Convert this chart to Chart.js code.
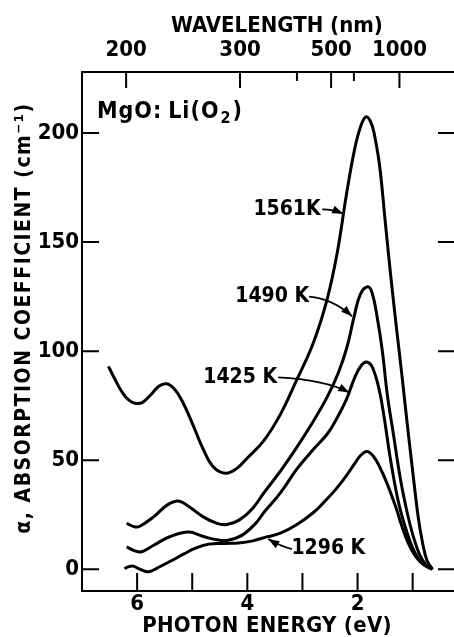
<!DOCTYPE html>
<html>
<head>
<meta charset="utf-8">
<script src="https://cdn.jsdelivr.net/npm/chart.js@4.4.1/dist/chart.umd.min.js"></script>
<style>
  html, body { margin: 0; padding: 0; background: #fff; overflow: hidden; }
  #wrap { width: 454px; height: 637px; position: relative; }
</style>
</head>
<body>
<div id="wrap"><canvas id="chart"></canvas></div>
<script>
// photon energy (eV) vs absorption coefficient (cm^-1)
const k1561 = [[6.52,93],[6.40,87],[6.28,81.5],[6.15,77.5],[6.02,76],[5.90,76.5],[5.75,80],[5.60,84],[5.46,85],[5.32,82.5],[5.18,77],[5.00,67],[4.80,55],[4.62,47],[4.40,44],[4.20,46],[4.00,51],[3.70,59],[3.40,71],[3.10,87],[2.80,104],[2.55,124],[2.37,145],[2.20,172],[2.05,193],[1.93,204],[1.84,207.5],[1.76,205],[1.70,200],[1.60,185],[1.50,160],[1.40,135],[1.30,112],[1.20,90],[1.10,67],[1.00,45],[0.90,24],[0.82,12],[0.74,4],[0.64,0]];
const k1490 = [[6.19,21],[6.05,19.5],[5.95,19.7],[5.70,24],[5.45,29.5],[5.25,31.3],[5.05,28.5],[4.80,24],[4.55,21],[4.37,20.5],[4.15,22.5],[3.90,28],[3.70,35],[3.40,45],[3.10,56],[2.80,68],[2.55,79],[2.35,90],[2.19,102],[2.07,115],[1.95,126],[1.82,129.5],[1.74,127],[1.64,115],[1.55,100],[1.46,80],[1.35,62],[1.22,41],[1.10,26],[1.00,16],[0.88,7],[0.76,2],[0.64,0]];
const k1425 = [[6.19,10.2],[6.05,8.5],[5.92,8],[5.70,11],[5.40,15],[5.06,17],[4.80,15],[4.55,13.5],[4.35,13.3],[4.10,15.5],[3.85,21],[3.70,26],[3.40,35],[3.10,46],[2.80,55],[2.55,62],[2.38,69],[2.20,78],[2.05,88],[1.93,93.5],[1.83,95],[1.72,92],[1.58,79],[1.40,50],[1.26,31],[1.13,19],[1.02,11],[0.90,5],[0.76,1.5],[0.64,0]];
const k1296 = [[6.23,0.3],[6.15,1.2],[6.07,1.4],[5.95,0],[5.79,-1.2],[5.60,1],[5.37,4],[5.15,7],[4.95,9.5],[4.70,11.5],[4.40,11.8],[4.16,12],[3.90,13],[3.65,14.8],[3.40,16.5],[3.10,20.5],[2.80,26],[2.60,31],[2.40,36.5],[2.20,43],[2.05,48.5],[1.95,52],[1.83,54],[1.72,52],[1.60,47],[1.46,39],[1.30,28],[1.20,20],[1.08,12],[0.95,6],[0.80,2],[0.64,0]];

const energyTicks = [1, 2, 3, 4, 5, 6];
const energyLabels = [2, 4, 6];
const alphaTicks = [0, 50, 100, 150, 200];
const wavelengthTicks = [200, 300, 400, 500, 600, 1000];
const wavelengthLabels = [200, 300, 500, 1000];
const HC = 1239.84; // eV*nm

const FONT = 'DejaVu Sans Condensed, DejaVu Sans';
Chart.defaults.font.family = FONT;
Chart.defaults.font.weight = 'bold';
Chart.defaults.color = '#000';

const toXY = arr => arr.map(p => ({x: p[0], y: p[1]}));
const curve = d => ({
  data: toXY(d),
  borderColor: '#000',
  borderWidth: 3,
  pointRadius: 0,
  fill: false,
  tension: 0.4
});

// text labels + arrows, placed in data units
const notes = [
  {text: '1561K',  at: [3.28, 165], from: [2.64, 165], ctrl: [2.45, 165], tip: [2.26, 163]},
  {text: '1490 K', at: [3.55, 125], from: [2.88, 125], ctrl: [2.45, 124], tip: [2.10, 116]},
  {text: '1425 K', at: [4.13, 88],  from: [3.44, 88],  ctrl: [2.60, 87],  tip: [2.15, 81]},
  {text: '1296 K', at: [2.53, 9.6], from: [3.19, 9.2], ctrl: [3.40, 10.5], tip: [3.62, 13.8]}
];

function arrow(ctx, s, c, t) {
  ctx.beginPath();
  ctx.moveTo(s[0], s[1]);
  ctx.quadraticCurveTo(c[0], c[1], t[0], t[1]);
  ctx.stroke();
  const ang = Math.atan2(t[1] - c[1], t[0] - c[0]);
  const L = 11, W = 4;
  ctx.beginPath();
  ctx.moveTo(t[0], t[1]);
  ctx.lineTo(t[0] - L * Math.cos(ang) + W * Math.sin(ang), t[1] - L * Math.sin(ang) - W * Math.cos(ang));
  ctx.lineTo(t[0] - L * Math.cos(ang) - W * Math.sin(ang), t[1] - L * Math.sin(ang) + W * Math.cos(ang));
  ctx.closePath();
  ctx.fill();
}

function spaced(ctx, px) {
  if ('letterSpacing' in ctx) ctx.letterSpacing = px + 'px';
}

const decor = {
  id: 'decor',
  afterDraw(chart) {
    const {ctx, chartArea: a} = chart;
    const x = chart.scales.x, x2 = chart.scales.x2, y = chart.scales.y;
    const P = (e, v) => [x.getPixelForValue(e), y.getPixelForValue(v)];
    ctx.save();
    ctx.strokeStyle = '#000';
    ctx.fillStyle = '#000';
    ctx.lineWidth = 2;

    // inward tick marks
    ctx.beginPath();
    energyTicks.forEach(v => {
      const px = x.getPixelForValue(v);
      ctx.moveTo(px, a.bottom);
      ctx.lineTo(px, a.bottom - 18);
    });
    alphaTicks.forEach(v => {
      const py = y.getPixelForValue(v);
      ctx.moveTo(a.left, py); ctx.lineTo(a.left + 17, py);
      ctx.moveTo(a.right - 16, py); ctx.lineTo(a.right, py);
    });
    wavelengthTicks.forEach(l => {
      const px = x2.getPixelForValue(HC / l);
      const len = wavelengthLabels.includes(l) ? 16 : 9;
      ctx.moveTo(px, a.top);
      ctx.lineTo(px, a.top + len);
    });
    ctx.stroke();

    // curve labels and arrows
    ctx.font = 'bold 21px ' + FONT;
    ctx.textAlign = 'center';
    ctx.textBaseline = 'middle';
    ctx.lineWidth = 1.8;
    notes.forEach(n => {
      const p = P(n.at[0], n.at[1]);
      ctx.fillText(n.text, p[0], p[1]);
      arrow(ctx, P(n.from[0], n.from[1]), P(n.ctrl[0], n.ctrl[1]), P(n.tip[0], n.tip[1]));
    });

    // axis titles
    ctx.font = 'bold 22px ' + FONT;
    ctx.fillText('WAVELENGTH (nm)', 277, 26);
    ctx.save();
    spaced(ctx, 0.3);
    ctx.fillText('PHOTON ENERGY (eV)', 267, 626);
    ctx.restore();

    // sample label MgO:Li(O2)
    const m = P(6.73, 207);
    ctx.save();
    ctx.textAlign = 'left';
    ctx.textBaseline = 'alphabetic';
    spaced(ctx, 1);
    ctx.font = 'bold 23px ' + FONT;
    let cx = m[0];
    ctx.fillText('MgO:', cx, m[1]);
    cx += ctx.measureText('MgO:').width + 6;
    ctx.fillText('Li(O', cx, m[1]);
    cx += ctx.measureText('Li(O').width;
    ctx.font = 'bold 16px ' + FONT;
    ctx.fillText('2', cx + 1, m[1] + 5);
    cx += ctx.measureText('2').width + 2;
    ctx.font = 'bold 23px ' + FONT;
    ctx.fillText(')', cx, m[1]);
    ctx.restore();

    // y title
    ctx.save();
    ctx.translate(25, 318);
    ctx.rotate(-Math.PI / 2);
    ctx.font = 'bold 21px ' + FONT;
    spaced(ctx, 1.5);
    ctx.textAlign = 'center';
    ctx.textBaseline = 'middle';
    ctx.fillText('\u03b1, ABSORPTION COEFFICIENT (cm\u207b\u00b9)', 0, 0);
    ctx.restore();

    ctx.restore();
  }
};

new Chart(document.getElementById('chart').getContext('2d'), {
  type: 'line',
  data: {
    datasets: [curve(k1561), curve(k1490), curve(k1425), curve(k1296)]
  },
  options: {
    responsive: true,
    maintainAspectRatio: false,
    animation: false,
    layout: {padding: 0},
    plugins: {legend: {display: false}, tooltip: {enabled: false}},
    scales: {
      x: {
        type: 'linear',
        position: 'bottom',
        reverse: true,
        min: 0.25,
        max: 7,
        afterBuildTicks: s => { s.ticks = energyTicks.map(v => ({value: v})); },
        afterFit: s => { s.height = 46; },
        grid: {drawOnChartArea: false, drawTicks: false},
        border: {display: true, color: '#000', width: 2},
        ticks: {
          autoSkip: false,
          maxRotation: 0,
          padding: 0,
          font: {size: 22},
          callback: v => energyLabels.includes(v) ? String(v) : ''
        }
      },
      x2: {
        type: 'linear',
        position: 'top',
        reverse: true,
        min: 0.25,
        max: 7,
        afterBuildTicks: s => { s.ticks = wavelengthTicks.map(l => ({value: HC / l})); },
        afterFit: s => { s.height = 72; },
        grid: {drawOnChartArea: false, drawTicks: false},
        border: {display: true, color: '#000', width: 2},
        ticks: {
          autoSkip: false,
          maxRotation: 0,
          padding: 9,
          font: {size: 22},
          callback: v => {
            const l = Math.round(HC / v);
            return wavelengthLabels.includes(l) ? String(l) : '';
          }
        }
      },
      y: {
        type: 'linear',
        position: 'left',
        min: -10,
        max: 228,
        afterBuildTicks: s => { s.ticks = alphaTicks.map(v => ({value: v})); },
        afterFit: s => { s.width = 82; },
        grid: {drawOnChartArea: false, drawTicks: false},
        border: {display: true, color: '#000', width: 2},
        ticks: {padding: 3, font: {size: 22}}
      }
    }
  },
  plugins: [decor]
});
</script>
</body>
</html>
